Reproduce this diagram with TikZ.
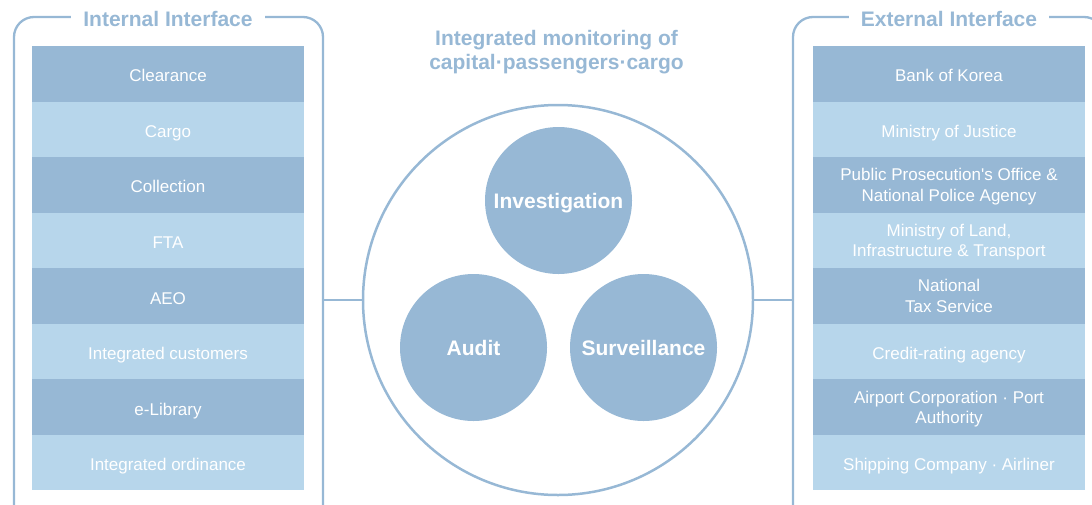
\documentclass[tikz,border=0pt]{standalone}
\usepackage{fontspec}
\setmainfont{Liberation Sans}[Ligatures=TeXOff]
\definecolor{dk}{HTML}{97B8D5}
\definecolor{lt}{HTML}{B7D6EB}
\begin{document}
\begin{tikzpicture}[x=1pt,y=-1pt,
  row/.style={minimum width=272pt, minimum height=55.56pt, inner sep=0pt, align=center, text=white, text depth=0pt, font=\fontsize{17}{20.5}\selectfont, execute at begin node={\rule{0pt}{16pt}}},
  two/.style={execute at begin node={\rule{0pt}{19pt}}},
  drow/.style={row, fill=dk},
  lrow/.style={row, fill=lt},
  frame/.style={draw=dk, line width=2.3pt, rounded corners=20pt, minimum height=508pt, inner sep=0pt},
  ttl/.style={fill=white, text=dk, font=\bfseries\fontsize{21}{24}\selectfont, inner xsep=12pt, inner ysep=2pt},
  ball/.style={circle, fill=dk, minimum size=147pt, text=white, text depth=0pt, font=\bfseries\fontsize{21}{24}\selectfont, inner sep=0pt},
  big/.style={circle, draw=dk, line width=2.5pt, minimum size=390pt, inner sep=0pt},
  link/.style={draw=dk, line width=2pt}]
\useasboundingbox (0,0) rectangle (1092,504);
% frames
\node[frame, minimum width=309pt] (lframe) at (168.5,271) {};
\node[frame, minimum width=311pt] (rframe) at (948.5,271) {};
\node[ttl] (ltitle) at (168,18.5) {Internal Interface};
\node[ttl] (rtitle) at (949,18.5) {External Interface};
% internal rows
\node[drow] (i1) at (168,73.78) {Clearance};
\node[lrow] (i2) at (168,129.34) {Cargo};
\node[drow] (i3) at (168,184.9) {Collection};
\node[lrow] (i4) at (168,240.46) {FTA};
\node[drow] (i5) at (168,296.02) {AEO};
\node[lrow] (i6) at (168,351.58) {Integrated customers};
\node[drow] (i7) at (168,407.14) {e-Library};
\node[lrow] (i8) at (168,462.7) {Integrated ordinance};
% external rows
\node[drow] (e1) at (949,73.78) {Bank of Korea};
\node[lrow] (e2) at (949,129.34) {Ministry of Justice};
\node[drow, two] (e3) at (949,184.9) {Public Prosecution's Office \&\\National Police Agency};
\node[lrow, two] (e4) at (949,240.46) {Ministry of Land,\\Infrastructure \& Transport};
\node[drow, two] (e5) at (949,296.02) {National\\Tax Service};
\node[lrow] (e6) at (949,351.58) {Credit-rating agency};
\node[drow, two] (e7) at (949,407.14) {Airport Corporation · Port\\Authority};
\node[lrow] (e8) at (949,462.7) {Shipping Company · Airliner};
% center
\node[text=dk, align=center, font=\bfseries\fontsize{21}{24}\selectfont] (ctitle) at (556.5,52) {Integrated monitoring of\\capital·passengers·cargo};
\node[big] (core) at (558,300) {};
\node[ball] (inv) at (558.5,200.5) {Investigation};
\node[ball] (aud) at (473.5,347.5) {Audit};
\node[ball] (sur) at (643.5,347.5) {Surveillance};
% connectors
\draw[link] (core.west) -- (core.west -| lframe.east);
\draw[link] (core.east) -- (core.east -| rframe.west);
\end{tikzpicture}
\end{document}
